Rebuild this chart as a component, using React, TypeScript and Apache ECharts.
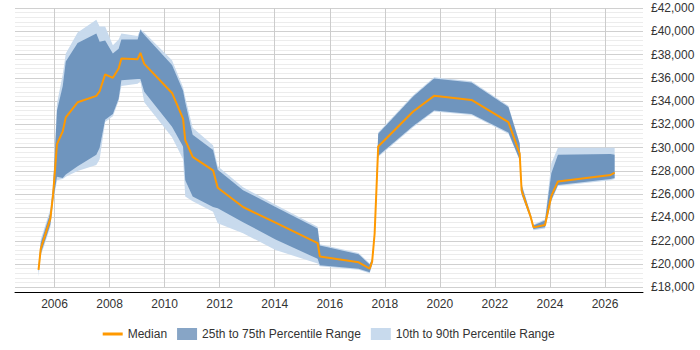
import React, { useEffect, useRef } from 'react';
import * as echarts from 'echarts';

const years = [
  2005.42, 2005.5, 2005.85, 2005.95, 2006.09, 2006.3, 2006.41, 2006.84, 2007.52, 2007.64,
  2007.84, 2008.12, 2008.33, 2008.43, 2009.02, 2009.12, 2009.26, 2010.27, 2010.67, 2010.75,
  2011.02, 2011.76, 2011.93, 2012.85, 2014.03, 2015.56, 2015.64, 2017.05, 2017.45, 2017.54,
  2017.63, 2017.76, 2019.03, 2019.79, 2021.15, 2022.49, 2022.9, 2022.97, 2023.3, 2023.4,
  2023.82, 2024.05, 2024.29, 2026.2, 2026.35,
];
const median = [
  19500, 21300, 23900, 26000, 30300, 31400, 32600, 33900, 34450, 34850,
  36300, 36000, 36800, 37650, 37600, 38150, 37200, 34700, 32500, 30650,
  29200, 28050, 26550, 24900, 23550, 21800, 20650, 20150, 19600, 20200,
  22600, 30100, 33100, 34450, 34100, 32200, 29500, 26300, 24050, 23150,
  23350, 25850, 27100, 27650, 27850,
];
const p25 = [
  19300, 20900, 23400, 25500, 27500, 27400, 27700, 28400, 29400, 30000,
  32400, 32900, 34200, 35800, 35900, 35900, 34800, 31800, 30100, 27200,
  25800, 24900, 24800, 23600, 22100, 20450, 19900, 19600, 19300, 20000,
  22300, 29300, 31850, 33200, 32900, 31300, 28950, 26000, 23900, 23000,
  23150, 25500, 26800, 27300, 27400,
];
const p75 = [
  19700, 21800, 24400, 26600, 33200, 35300, 37400, 39000, 39800, 39100,
  39200, 38100, 38500, 39300, 39300, 40100, 39700, 37100, 34900, 33900,
  31100, 29800, 28100, 26350, 24900, 23050, 21600, 20850, 19950, 20400,
  22900, 31200, 34400, 35950, 35600, 33500, 30350, 26800, 24250, 23300,
  23750, 27800, 29400, 29450, 29400,
];
const p10 = [
  18900, 20700, 23200, 25300, 27200, 27300, 27500, 28000, 28500, 29000,
  32200, 32700, 34000, 35300, 35500, 35700, 33900, 30900, 29000, 25800,
  25400, 24500, 23500, 22650, 21200, 20050, 19800, 19500, 19200, 19900,
  22200, 29200, 31750, 33100, 32800, 31200, 28900, 25900, 23800, 22900,
  23050, 25400, 26700, 27200, 27300,
];
const p90 = [
  19900, 22100, 24700, 26900, 33800, 36300, 38100, 39900, 41000, 40400,
  40400, 38800, 39300, 39800, 39600, 40200, 39900, 37500, 35200, 34300,
  31700, 30200, 28400, 26600, 25100, 23200, 21700, 20950, 20050, 20500,
  23000, 31300, 34500, 36050, 35700, 33600, 30400, 26900, 24350, 23400,
  23850, 28650, 30000, 30000, 30000,
];

const NAME_MED = 'Median';
const NAME_IQR = '25th to 75th Percentile Range';
const NAME_DEC = '10th to 90th Percentile Range';

const FONT = '"Liberation Sans", Arial, sans-serif';

function fmtMoney(v: number) {
  return '£' + String(v).replace(/\B(?=(\d{3})+(?!\d))/g, ',');
}

export default function App() {
  const ref = useRef<HTMLDivElement>(null);
  useEffect(() => {
    const chart = echarts.init(ref.current!, null, { renderer: 'svg' });
    const band = (lo: number[], hi: number[], color: string) => (params: any, api: any) => {
      if (params.dataIndex !== 0) return null;
      const pts: number[][] = [];
      for (let i = 0; i < years.length; i++) pts.push(api.coord([years[i], hi[i]]));
      for (let i = years.length - 1; i >= 0; i--) pts.push(api.coord([years[i], lo[i]]));
      return { type: 'polygon', shape: { points: pts }, style: { fill: color } };
    };
    const DEC_COLOR = '#c8daed';
    const IQR_COLOR = 'rgba(41,94,153,0.56)';
    chart.setOption({
      animation: false,
      grid: { left: 15, right: 57, top: 8, bottom: 62.7, containLabel: false },
      legend: {
        left: 102.7,
        top: 328,
        padding: 0,
        itemWidth: 20,
        itemHeight: 12,
        itemGap: 10,
        textStyle: { fontSize: 12, color: '#333', fontFamily: FONT },
        data: [
          { name: NAME_MED, icon: 'path://M0 0H20V3H0Z' },
          { name: NAME_IQR, icon: 'rect' },
          { name: NAME_DEC, icon: 'rect' },
        ],
      },
      xAxis: {
        type: 'value',
        min: 2004.565,
        max: 2027.38,
        splitNumber: 11,
        minInterval: 2,
        maxInterval: 2,
        offset: 5,
        axisLine: { show: true, lineStyle: { color: '#000', width: 1 } },
        axisTick: { show: false },
        axisLabel: {
          show: true,
          margin: 6,
          fontSize: 12,
          color: '#333',
          fontFamily: FONT,
          showMinLabel: false,
          showMaxLabel: false,
          formatter: (v: number) => String(v),
        },
        splitLine: {
          show: true,
          showMinLine: false,
          showMaxLine: false,
          lineStyle: { color: '#cccccc', width: 1 },
        },
      },
      yAxis: {
        type: 'value',
        position: 'right',
        min: 18000,
        max: 42000,
        interval: 2000,
        axisLine: { show: false },
        axisTick: { show: false },
        axisLabel: {
          margin: 8,
          fontSize: 12,
          color: '#333',
          fontFamily: FONT,
          formatter: (v: number) => fmtMoney(v),
        },
        splitLine: { show: true, lineStyle: { color: '#d0d0d0', width: 1 } },
        minorTick: { show: false, splitNumber: 5 },
        minorSplitLine: { show: true, lineStyle: { color: '#ececec', width: 1 } },
      },
      series: [
        {
          name: NAME_DEC,
          type: 'custom',
          silent: true,
          itemStyle: { color: DEC_COLOR },
          data: years.map((x, i) => [x, p10[i], p90[i]]),
          encode: { x: 0, y: [1, 2] },
          renderItem: band(p10, p90, DEC_COLOR),
          z: 1,
        },
        {
          name: NAME_IQR,
          type: 'custom',
          silent: true,
          itemStyle: { color: IQR_COLOR },
          data: years.map((x, i) => [x, p25[i], p75[i]]),
          encode: { x: 0, y: [1, 2] },
          renderItem: band(p25, p75, IQR_COLOR),
          z: 2,
        },
        {
          name: NAME_MED,
          type: 'line',
          data: years.map((x, i) => [x, median[i]]),
          showSymbol: false,
          symbol: 'none',
          itemStyle: { color: '#ff9900' },
          lineStyle: { color: '#ff9900', width: 2 },
          z: 3,
        },
      ],
    });
    return () => chart.dispose();
  }, []);
  return (
    <div
      ref={ref}
      style={{ position: 'absolute', left: 0, top: 0, width: 700, height: 350 }}
    />
  );
}
